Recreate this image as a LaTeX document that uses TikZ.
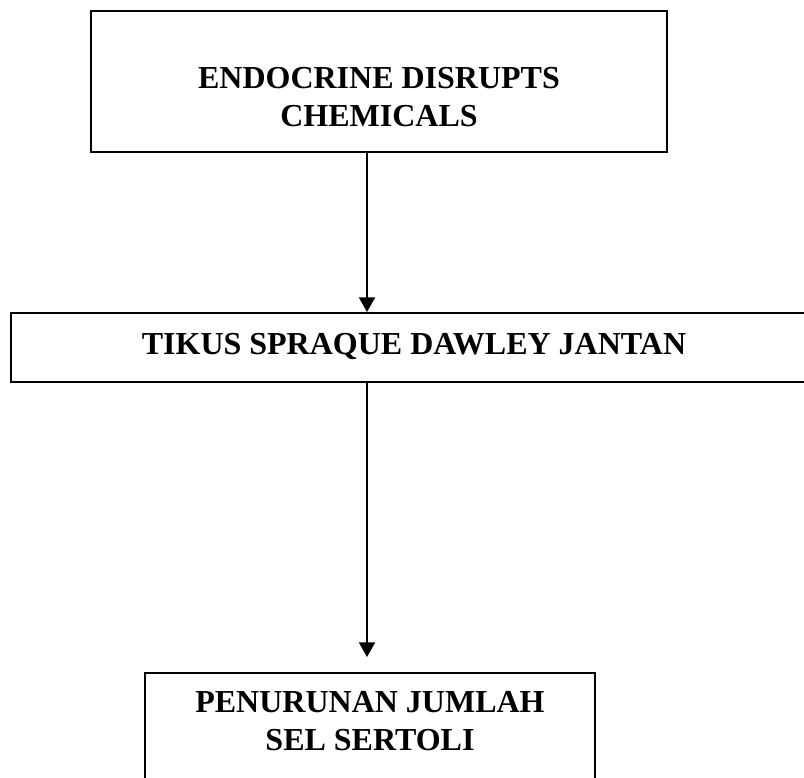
\documentclass[tikz,border=0pt]{standalone}
\usepackage{fontspec}
\setmainfont{Liberation Serif}
\usetikzlibrary{arrows.meta}

\tikzset{
  box/.style={draw, line width=1.5pt, inner sep=0pt},
  lbl/.style={font=\bfseries\fontsize{24pt}{28pt}\selectfont, align=center, inner sep=0pt},
  flow/.style={line width=1.5pt, -{Triangle[width=12pt,length=11pt]}}
}

\begin{document}
\begin{tikzpicture}[x=0.75pt,y=-0.75pt]
		%%%%% START %%%%%
		\useasboundingbox (0,0) rectangle (804,778);
		
		\node[box, minimum width=432pt, minimum height=106pt] (edc) at (379,81.3) {};
		\node[lbl] (edctext) at (379,97) {ENDOCRINE DISRUPTS\\CHEMICALS};
		
		\node[box, minimum width=604.5pt, minimum height=51.75pt] (tikus) at (414,347.5) {};
		\node[lbl] (tikustext) at (414,346.5) {TIKUS SPRAQUE DAWLEY JANTAN};
		
		\node[box, minimum width=337.5pt, minimum height=95.25pt] (sel) at (370,736.5) {};
		\node[lbl] (seltext) at (370,721) {PENURUNAN JUMLAH\\SEL SERTOLI};
		
		\coordinate (axis) at (367,0);
		\coordinate (seltip) at (367,657);
		\draw[flow] (axis |- edc.south) -- (axis |- tikus.north);
		\draw[flow] (axis |- tikus.south) -- (seltip);
		
		%%%%% END %%%%%
	\end{tikzpicture}
\end{document}
